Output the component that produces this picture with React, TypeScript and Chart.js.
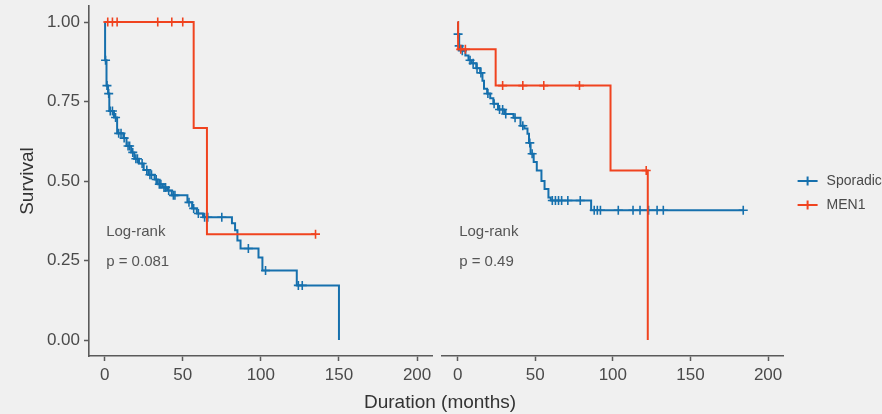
import React, { useEffect, useRef } from 'react';
import { Chart, registerables } from 'chart.js';

Chart.register(...registerables);

// ---------- Text ----------
const seriesNames = ['Sporadic', 'MEN1'];
const xTitle = 'Duration (months)';
const yTitle = 'Survival';
const annotationTitle = 'Log-rank';
const pValueLabels = ['p = 0.081', 'p = 0.49'];

// ---------- Ticks ----------
const xTickValues = [0, 50, 100, 150, 200];
const xTickLabels = ['0', '50', '100', '150', '200'];
const yTickValues = [0, 0.25, 0.5, 0.75, 1];
const yTickLabels = ['0.00', '0.25', '0.50', '0.75', '1.00'];

// ---------- Left panel : Sporadic ----------
const leftSporadicTime = [0, 0.3, 1.2, 2.2, 3, 6, 8, 12, 14, 17, 19, 22, 25, 28, 32, 34, 37, 40, 43, 53, 56, 59, 63, 81.5, 83.5, 85, 87, 98.5, 101, 123, 150];
const leftSporadicSurv = [1, 0.88, 0.8, 0.775, 0.72, 0.7, 0.65, 0.635, 0.61, 0.59, 0.57, 0.555, 0.535, 0.52, 0.505, 0.49, 0.48, 0.47, 0.455, 0.433, 0.414, 0.398, 0.386, 0.367, 0.345, 0.313, 0.288, 0.26, 0.219, 0.172, 0];
const leftSporadicCensorTime = [0.6, 1.5, 2.6, 3.6, 5, 7, 9, 10.5, 12.5, 15, 16, 18, 20, 21, 24, 27, 29, 30, 33, 35, 36, 38, 39, 41, 44, 45, 54, 57, 60, 64, 66, 75, 92, 103, 124, 126.5];
const leftSporadicCensorSurv = [0.88, 0.8, 0.775, 0.72, 0.72, 0.7, 0.65, 0.65, 0.635, 0.61, 0.61, 0.59, 0.57, 0.57, 0.555, 0.535, 0.52, 0.52, 0.505, 0.49, 0.49, 0.48, 0.48, 0.47, 0.455, 0.455, 0.433, 0.414, 0.398, 0.386, 0.386, 0.386, 0.288, 0.219, 0.172, 0.172];

// ---------- Left panel : MEN1 ----------
const leftMen1Time = [0, 57, 65.5, 135];
const leftMen1Surv = [1, 0.667, 0.333, 0.333];
const leftMen1CensorTime = [2, 5, 8, 34, 43, 50, 135];
const leftMen1CensorSurv = [1, 1, 1, 1, 1, 1, 0.333];

// ---------- Right panel : Sporadic ----------
const rightSporadicTime = [0, 0.3, 1, 3, 5, 7, 9, 12, 14.5, 16, 17, 19, 21, 23, 26, 30, 36, 40.5, 43, 45, 46, 47, 49, 51, 54, 56, 58.5, 60, 86, 184];
const rightSporadicSurv = [1, 0.962, 0.925, 0.91, 0.895, 0.88, 0.87, 0.855, 0.84, 0.815, 0.79, 0.775, 0.76, 0.743, 0.725, 0.711, 0.699, 0.674, 0.665, 0.649, 0.62, 0.586, 0.56, 0.533, 0.5, 0.475, 0.448, 0.439, 0.408, 0.408];
const rightSporadicCensorTime = [0.3, 1, 3, 8, 10, 12.5, 15, 19.5, 23.5, 27, 29, 31, 37, 42, 46.5, 48, 61, 63, 65, 67, 71, 79, 88, 90, 92, 103.5, 113, 117.5, 123, 128.5, 132.5, 184];
const rightSporadicCensorSurv = [0.962, 0.925, 0.91, 0.88, 0.87, 0.855, 0.84, 0.775, 0.743, 0.725, 0.725, 0.711, 0.699, 0.674, 0.62, 0.586, 0.439, 0.439, 0.439, 0.439, 0.439, 0.439, 0.408, 0.408, 0.408, 0.408, 0.408, 0.408, 0.408, 0.408, 0.408, 0.408];

// ---------- Right panel : MEN1 ----------
const rightMen1Time = [0, 0.3, 24.5, 98.5, 122.5];
const rightMen1Surv = [1, 0.914, 0.8, 0.533, 0];
const rightMen1CensorTime = [2, 5, 29, 42, 55.5, 78.5, 121.5];
const rightMen1CensorSurv = [0.914, 0.914, 0.8, 0.8, 0.8, 0.8, 0.533];

// ---------- Style ----------
const COLORS = ['#1670ad', '#f0431f'];
const BG = '#f0f0f0';
const AXIS = '#5a5a5a';
const TEXT = '#4a4a4a';
const FONT = '"Liberation Sans", Arial, sans-serif';

const pts = (t: number[], s: number[]) => t.map((v, i) => ({ x: v, y: s[i] }));

function makeDatasets(
  spT: number[], spS: number[], spCT: number[], spCS: number[],
  mT: number[], mS: number[], mCT: number[], mCS: number[]
) {
  const line = (label: string, data: any[], color: string) => ({
    type: 'line' as const,
    label,
    data,
    borderColor: color,
    backgroundColor: color,
    borderWidth: 2,
    stepped: 'before' as const,
    pointRadius: 0,
    fill: false,
    tension: 0,
  });
  const cens = (label: string, data: any[], color: string) => ({
    type: 'scatter' as const,
    label,
    data,
    borderColor: color,
    backgroundColor: color,
    pointStyle: 'cross' as const,
    pointRadius: 4.5,
    pointBorderWidth: 1.6,
    showLine: false,
  });
  return [
    cens(seriesNames[1] + ' censored', pts(mCT, mCS), COLORS[1]),
    line(seriesNames[1], pts(mT, mS), COLORS[1]),
    cens(seriesNames[0] + ' censored', pts(spCT, spCS), COLORS[0]),
    line(seriesNames[0], pts(spT, spS), COLORS[0]),
  ];
}

const xScale = () => ({
  type: 'linear' as const,
  min: -10,
  max: 210,
  afterBuildTicks: (s: any) => {
    s.ticks = xTickValues.map((v) => ({ value: v }));
  },
  afterFit: (s: any) => {
    s.height = 58;
    s.paddingLeft = 0;
    s.paddingRight = 0;
  },
  ticks: {
    color: TEXT,
    font: { family: FONT, size: 17 },
    padding: 4,
    maxRotation: 0,
    callback: (v: any) => xTickLabels[xTickValues.indexOf(Number(v))],
  },
  grid: { display: true, drawOnChartArea: false, drawTicks: true, tickLength: 5, tickColor: AXIS, tickWidth: 1.5 },
  border: { display: true, color: AXIS, width: 1.6 },
  title: { display: false },
});

const annotationPlugin = (pText: string) => ({
  id: 'kmAnnotation',
  afterDatasetsDraw(chart: any) {
    const { ctx, scales } = chart;
    const x = scales.x.getPixelForValue(1);
    ctx.save();
    ctx.font = `15px ${FONT}`;
    ctx.fillStyle = '#555555';
    ctx.textAlign = 'left';
    ctx.textBaseline = 'middle';
    ctx.fillText(annotationTitle, x, scales.y.getPixelForValue(0.34));
    ctx.fillText(pText, x, scales.y.getPixelForValue(0.245));
    ctx.restore();
  },
});

const legendPlugin = {
  id: 'kmLegend',
  afterDraw(chart: any) {
    const { ctx, chartArea } = chart;
    const x0 = chartArea.right + 14;
    const yMid = 193;
    ctx.save();
    seriesNames.forEach((name, i) => {
      const y = yMid - 12 + i * 24;
      const c = COLORS[i];
      ctx.strokeStyle = c;
      ctx.lineWidth = 2;
      ctx.beginPath();
      ctx.moveTo(x0, y);
      ctx.lineTo(x0 + 20, y);
      ctx.moveTo(x0 + 10, y - 4.5);
      ctx.lineTo(x0 + 10, y + 4.5);
      ctx.stroke();
      ctx.fillStyle = TEXT;
      ctx.font = `14px ${FONT}`;
      ctx.textAlign = 'left';
      ctx.textBaseline = 'middle';
      ctx.fillText(name, x0 + 29, y);
    });
    ctx.restore();
  },
};

export default function App() {
  const leftRef = useRef<HTMLCanvasElement>(null);
  const rightRef = useRef<HTMLCanvasElement>(null);

  useEffect(() => {
    const left = new Chart(leftRef.current!, {
      type: 'line',
      data: {
        datasets: makeDatasets(
          leftSporadicTime, leftSporadicSurv, leftSporadicCensorTime, leftSporadicCensorSurv,
          leftMen1Time, leftMen1Surv, leftMen1CensorTime, leftMen1CensorSurv
        ) as any,
      },
      options: {
        responsive: false,
        animation: false,
        layout: { padding: { left: 0, top: 5, right: 7.3, bottom: 0 } },
        plugins: { legend: { display: false }, tooltip: { enabled: false } },
        scales: {
          x: xScale() as any,
          y: {
            type: 'linear',
            min: -0.05,
            max: 1.05,
            afterBuildTicks: (s: any) => {
              s.ticks = yTickValues.map((v) => ({ value: v }));
            },
            afterFit: (s: any) => {
              s.width = 89;
              s.paddingTop = 0;
              s.paddingBottom = 0;
            },
            ticks: {
              color: TEXT,
              font: { family: FONT, size: 17 },
              padding: 4,
              callback: (v: any) => yTickLabels[yTickValues.indexOf(Number(v))],
            },
            grid: { display: true, drawOnChartArea: false, drawTicks: true, tickLength: 5, tickColor: AXIS, tickWidth: 1.5 },
            border: { display: true, color: AXIS, width: 1.6 },
            title: {
              display: true,
              text: yTitle,
              color: '#333333',
              font: { family: FONT, size: 19 },
              padding: { top: 16, bottom: 0 },
            },
          },
        },
      },
      plugins: [annotationPlugin(pValueLabels[0])],
    });

    const right = new Chart(rightRef.current!, {
      type: 'line',
      data: {
        datasets: makeDatasets(
          rightSporadicTime, rightSporadicSurv, rightSporadicCensorTime, rightSporadicCensorSurv,
          rightMen1Time, rightMen1Surv, rightMen1CensorTime, rightMen1CensorSurv
        ) as any,
      },
      options: {
        responsive: false,
        animation: false,
        layout: { padding: { left: 5.5, top: 5, right: 98.4, bottom: 0 } },
        plugins: { legend: { display: false }, tooltip: { enabled: false } },
        scales: {
          x: xScale() as any,
          y: { type: 'linear', display: false, min: -0.05, max: 1.05 },
        },
      },
      plugins: [annotationPlugin(pValueLabels[1]), legendPlugin],
    });

    return () => {
      left.destroy();
      right.destroy();
    };
  }, []);

  return (
    <div style={{ position: 'fixed', left: 0, top: 0, width: 882, height: 414, background: BG, overflow: 'hidden' }}>
      <canvas
        ref={leftRef}
        width={440}
        height={414}
        style={{ position: 'absolute', left: 0, top: 0, width: 440, height: 414, display: 'block' }}
      />
      <canvas
        ref={rightRef}
        width={446}
        height={414}
        style={{ position: 'absolute', left: 436, top: 0, width: 446, height: 414, display: 'block' }}
      />
      <div
        style={{
          position: 'absolute',
          left: 0,
          width: 880,
          top: 391,
          textAlign: 'center',
          fontFamily: FONT,
          fontSize: 19,
          lineHeight: '22px',
          color: '#333333',
        }}
      >
        {xTitle}
      </div>
    </div>
  );
}
